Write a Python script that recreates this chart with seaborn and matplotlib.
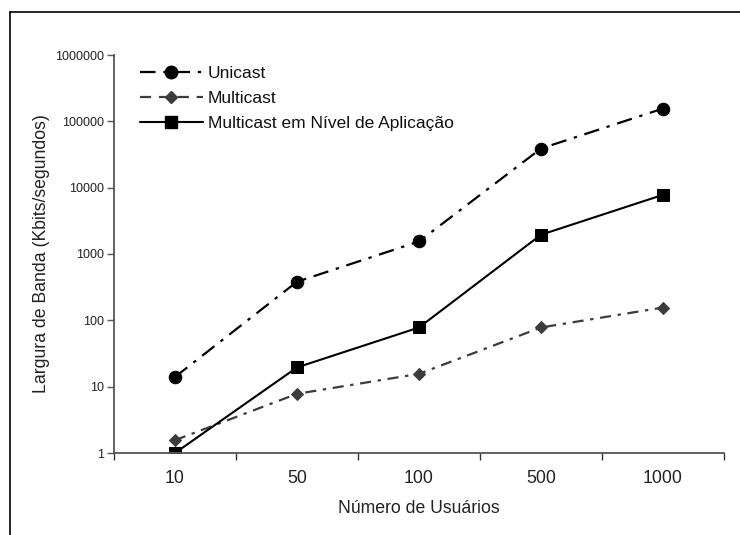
import matplotlib
matplotlib.use("Agg")
import matplotlib.pyplot as plt
from matplotlib.lines import Line2D
import seaborn as sns
import pandas as pd

users = ["10", "50", "100", "500", "1000"]
unicast = [14, 382, 1544, 38900, 155800]
multicast = [1.56, 7.8, 15.6, 78, 156]
alm = [1, 19.5, 78, 1950, 7800]
series_names = ["Unicast", "Multicast", "Multicast em Nível de Aplicação"]
y_ticks = [1, 10, 100, 1000, 10000, 100000, 1000000]

sns.set_theme(style="white")
plt.rcParams["font.family"] = ["Liberation Sans", "DejaVu Sans"]

W, H = 740, 535
fig = plt.figure(figsize=(W / 100, H / 100), dpi=100)
ax = fig.add_axes([114 / W, 1 - 453 / H, 610 / W, 398 / H])

df = pd.DataFrame({
    "users": users * 3,
    "value": unicast + multicast + alm,
    "series": [s for s in series_names for _ in users],
})

styles = {
    "Unicast": dict(color="black", marker="o", markersize=9, linestyle=(0, (7, 3.5, 1.5, 3.5)), linewidth=1.6),
    "Multicast": dict(color="#3c3c3c", marker="D", markersize=6.5, linestyle=(0, (5, 3, 1.5, 3)), linewidth=1.6),
    "Multicast em Nível de Aplicação": dict(color="black", marker="s", markersize=9, linestyle="-", linewidth=1.5),
}
legend_styles = {
    "Unicast": (0, (7, 3.5, 1.5, 3.5)),
    "Multicast": (0, (5, 3.5)),
    "Multicast em Nível de Aplicação": "-",
}

for name in series_names:
    sub = df[df["series"] == name]
    st = styles[name]
    sns.lineplot(data=sub, x="users", y="value", ax=ax, sort=False,
                 color=st["color"], marker=st["marker"], markersize=st["markersize"],
                 markeredgecolor=st["color"], linestyle=st["linestyle"],
                 linewidth=st["linewidth"], label=name, legend=False)

ax.set_yscale("log")
ax.set_ylim(1, 1000000)
ax.set_xlim(-0.5, 4.5)
ax.set_yticks(y_ticks)
ax.set_yticklabels([str(v) for v in y_ticks])
ax.yaxis.set_minor_locator(matplotlib.ticker.NullLocator())
ax.set_xticks(range(len(users)))
ax.set_xticklabels(users)
ax.set_xticks([i - 0.5 for i in range(len(users) + 1)], minor=True)

for s in ["top", "right"]:
    ax.spines[s].set_visible(False)
for s in ["left", "bottom"]:
    ax.spines[s].set_color("#555555")
    ax.spines[s].set_linewidth(1.3)

ax.tick_params(axis="y", which="major", left=True, length=5, width=1, color="#555555",
               labelsize=9, labelcolor="#222222", pad=2)
ax.tick_params(axis="x", which="major", bottom=True, length=0, labelsize=12.7,
               labelcolor="#222222", pad=12)
ax.tick_params(axis="x", which="minor", bottom=True, length=5, width=1, color="#333333")

ax.set_xlabel("Número de Usuários", fontsize=12.7, color="#222222")
ax.set_ylabel("Largura de Banda (Kbits/segundos)", fontsize=12.7, color="#222222")
ax.xaxis.set_label_coords(0.5, -0.118)
ax.yaxis.set_label_coords(-0.105, 0.5)
ax.grid(False)

handles = []
for name in series_names:
    st = styles[name]
    handles.append(Line2D([], [], color=st["color"], marker=st["marker"],
                          markersize=st["markersize"], markeredgecolor=st["color"],
                          linestyle=legend_styles[name], linewidth=st["linewidth"]))
leg = ax.legend(handles, series_names, loc="upper left", bbox_to_anchor=(140 / W, 1 - 66 / H),
                bbox_transform=fig.transFigure, frameon=False, fontsize=12.5,
                handlelength=3.6, handletextpad=0.3, labelspacing=0.56, borderpad=0,
                borderaxespad=0)
for t in leg.get_texts():
    t.set_color("#111111")

# outer frame (left and top edges visible)
fig.add_artist(Line2D([10 / W, 10 / W], [0, 1 - 12 / H], transform=fig.transFigure, color="black", lw=1.2))
fig.add_artist(Line2D([10 / W, 1], [1 - 12 / H, 1 - 12 / H], transform=fig.transFigure, color="black", lw=1.2))

fig.savefig("out.png", dpi=100, facecolor="white")
